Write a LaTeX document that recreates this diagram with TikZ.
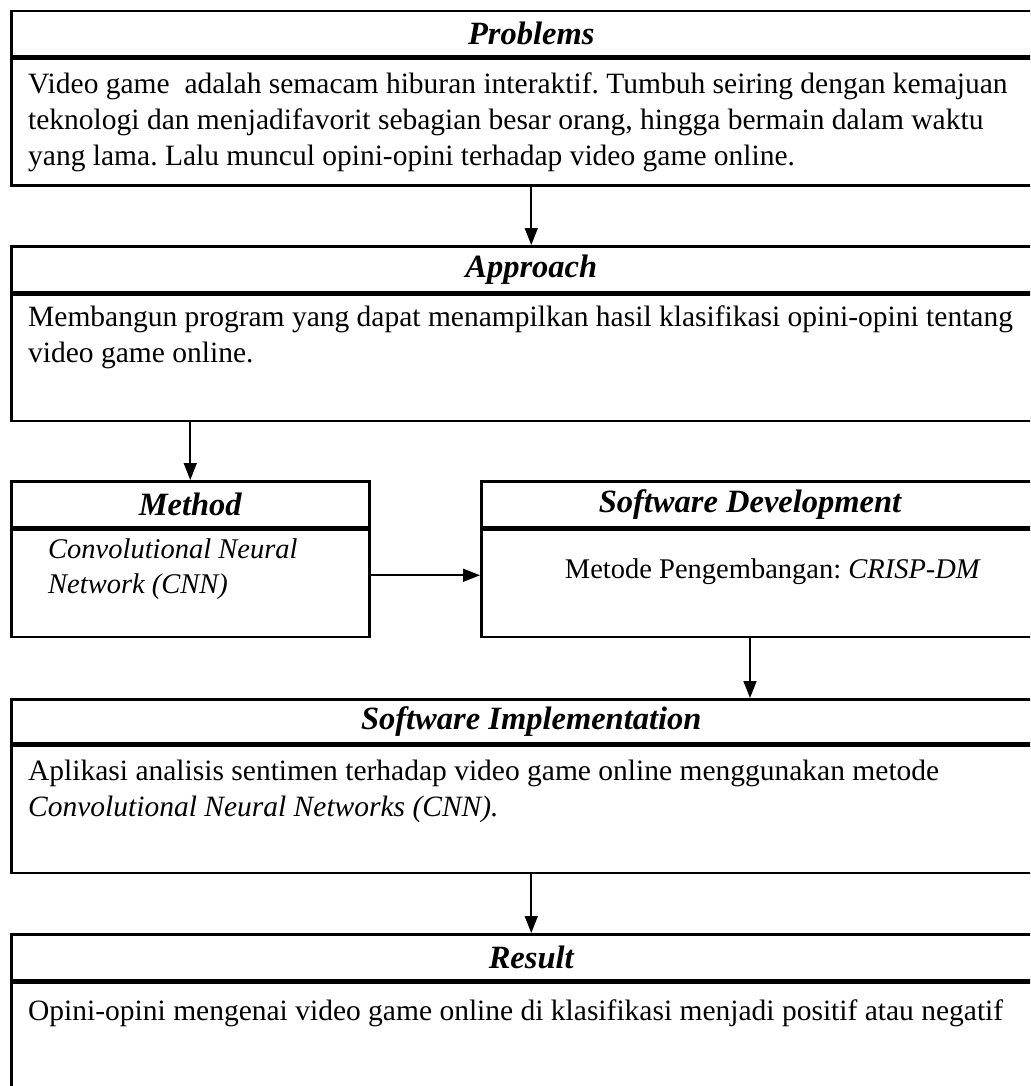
\documentclass[tikz,border=0pt]{standalone}
\usepackage{fontspec}
\setmainfont{Liberation Serif}
\usetikzlibrary{arrows.meta}
\frenchspacing

\begin{document}
\begin{tikzpicture}[x=1pt,y=-1pt,
	box/.style={draw, line width=2.5pt, inner sep=0pt, anchor=north west},
	head/.style={font=\fontsize{32.5}{36}\selectfont\bfseries\itshape},
	txt/.style={anchor=north west, inner sep=0pt, align=left, font=\fontsize{29.5}{36}\selectfont},
	flow/.style={-{Triangle[length=17pt,width=13pt]}, line width=1.6pt}]
	\clip (0,0) rectangle (1030,1086);
	% problems
	\node[box, head, minimum width=1040pt, minimum height=45pt] (probHead) at (10,10) {Problems};
	\node[box, minimum width=1040pt, minimum height=127pt] (probBody) at (probHead.south west) {};
	\node[txt] (probText) at ([xshift=18pt,yshift=-15pt]probBody.north west)
		{Video game~ adalah semacam hiburan interaktif. Tumbuh seiring dengan kemajuan\\
		 teknologi dan menjadifavorit sebagian besar orang, hingga bermain dalam waktu\\
		 yang lama. Lalu muncul opini-opini terhadap video game online.};
	% approach
	\node[box, head, minimum width=1040pt, minimum height=46pt] (apprHead) at (10,245) {Approach};
	\node[box, minimum width=1040pt, minimum height=126pt] (apprBody) at (apprHead.south west) {};
	\node[txt] (apprText) at ([xshift=18pt,yshift=-12pt]apprBody.north west)
		{Membangun program yang dapat menampilkan hasil klasifikasi opini-opini tentang\\
		 video game online.};
	% method
	\node[box, head, minimum width=358pt, minimum height=46pt] (methHead) at (10,480) {Method};
	\node[box, minimum width=358pt, minimum height=107pt] (methBody) at (methHead.south west) {};
	\node[txt, font=\fontsize{28.5}{35}\selectfont\itshape] (methText) at ([xshift=38pt,yshift=-10pt]methBody.north west)
		{Convolutional Neural\\ Network (CNN)};
	% software development
	\node[box, minimum width=600pt, minimum height=46pt] (sdHead) at (480,480) {};
	\node[box, minimum width=600pt, minimum height=107pt] (sdBody) at (sdHead.south west) {};
	\node[head] (sdTitle) at (750,505) {Software Development};
	\node[txt, anchor=center, font=\fontsize{28.5}{35}\selectfont] (sdText) at (773,572) {Metode Pengembangan: \textit{CRISP-DM}};
	% software implementation
	\node[box, head, minimum width=1040pt, minimum height=44pt] (siHead) at (10,698) {Software Implementation};
	\node[box, minimum width=1040pt, minimum height=127pt] (siBody) at (siHead.south west) {};
	\node[txt] (siText) at ([xshift=18pt,yshift=-15pt]siBody.north west)
		{Aplikasi analisis sentimen terhadap video game online menggunakan metode\\
		 \textit{Convolutional Neural Networks (CNN).}};
	% result
	\node[box, head, minimum width=1040pt, minimum height=46pt] (resHead) at (10,933) {Result};
	\node[box, minimum width=1040pt, minimum height=160pt] (resBody) at (resHead.south west) {};
	\node[txt] (resText) at ([xshift=18pt,yshift=-18pt]resBody.north west)
		{Opini-opini mengenai video game online di klasifikasi menjadi positif atau negatif};
	% arrows
	\draw[flow] (probBody.south) -- (apprHead.north);
	\draw[flow] (apprBody.south -| methHead.north) -- (methHead.north);
	\draw[flow] ([yshift=8pt]methBody.east) -- ([yshift=8pt]methBody.east -| sdBody.west);
	\draw[flow] (sdTitle |- sdBody.south) -- (sdTitle |- siHead.north);
	\draw[flow] (siBody.south) -- (resHead.north);
\end{tikzpicture}
\end{document}
